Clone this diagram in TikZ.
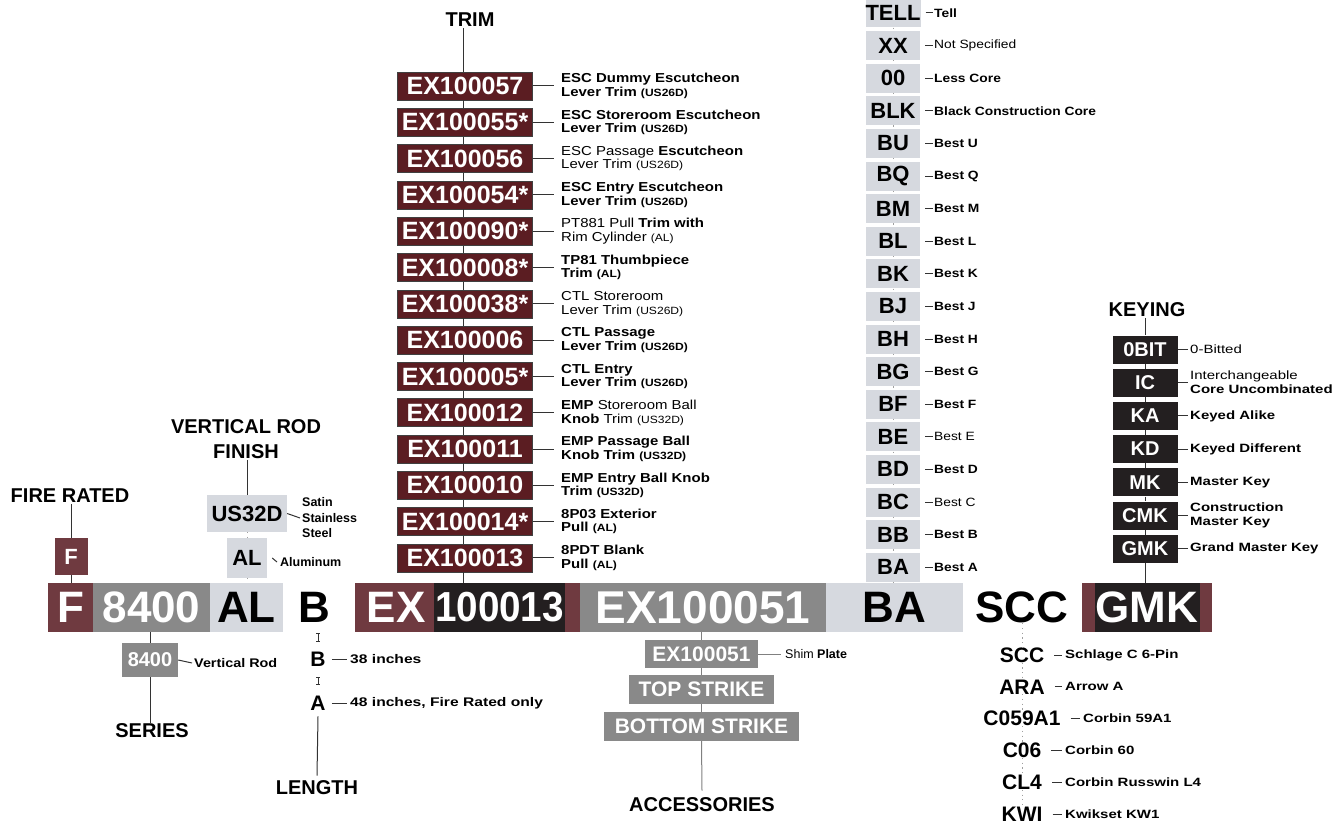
\documentclass[tikz,border=0pt]{standalone}
\usepackage{fontspec}
\setmainfont{Liberation Sans}
\newfontfamily\wideA[FakeStretch=1.15]{Liberation Sans}
\newfontfamily\wideB[FakeStretch=1.25]{Liberation Sans}
\newfontfamily\narrowA[FakeStretch=0.92]{Liberation Sans}
\usetikzlibrary{arrows.meta}
\definecolor{frmaroon}{HTML}{6F3A40}
\definecolor{trmaroon}{HTML}{5B1D22}
\definecolor{midgray}{HTML}{898989}
\definecolor{lightgr}{HTML}{D6D9DF}
\definecolor{keyblack}{HTML}{231F20}
\definecolor{linec}{HTML}{333333}
\newcommand\fsz[1]{\fontsize{#1}{#1}\selectfont}
\newcommand\psm[1]{{\fontsize{10.5}{13}\selectfont #1}}
\tikzset{
  title/.style={font=\bfseries\fsz{20}, inner sep=1pt, align=center},
  barbox/.style={minimum height=49, inner sep=0pt},
  bigtxt/.style={font=\bfseries\fsz{44}, inner sep=0pt},
  trimbox/.style={fill=trmaroon, draw=black!75, line width=0.6pt, text=white, font=\bfseries\fsz{25}, minimum width=135, minimum height=28, inner sep=0pt},
  desc/.style={anchor=west, align=left, font=\wideA\bfseries\fontsize{13}{13.5}\selectfont, inner sep=0pt},
  corebox/.style={fill=lightgr, minimum width=54, minimum height=29, inner sep=0pt, font=\bfseries\fsz{22}},
  keybox/.style={fill=keyblack, text=white, minimum width=65, minimum height=28, inner sep=0pt, font=\bfseries\fsz{20}},
  graybox/.style={fill=midgray, text=white, minimum height=28, inner sep=0pt, font=\bfseries\fsz{21}},
  lbl/.style={anchor=west, align=left, font=\wideA\bfseries\fontsize{12}{13.5}\selectfont, inner sep=0pt},
  wlbl/.style={anchor=west, align=left, font=\wideB\bfseries\fontsize{12}{14}\selectfont, inner sep=0pt},
  smtxt/.style={font=\bfseries\fsz{21}, inner sep=0pt},
  conn/.style={draw=linec, line width=1pt},
  dotc/.style={draw=gray!75, line width=1pt, dash pattern=on 1.2pt off 3.5pt},
  ibeam/.style={draw=linec, line width=0.8pt, {Bar[width=3.5pt]}-{Bar[width=3.5pt]}}
}
\begin{document}
\begin{tikzpicture}[x=1pt,y=-1pt]
\fill[white] (0,0) rectangle (1340,824);
\useasboundingbox (0,0) rectangle (1340,824);

% ---------- main bar ----------
\node[barbox, fill=frmaroon, minimum width=45, text=white, font=\bfseries\fsz{44}] (barF) at (70.5,607.5) {F};
\node[barbox, fill=midgray, minimum width=117, text=white, font=\bfseries\fsz{44}] (bar8400) at (151.5,607.5) {8400};
\node[barbox, fill=lightgr, minimum width=73, font=\bfseries\fsz{44}] (barAL) at (246.5,607.5) {AL};
\node[bigtxt] (barB) at (314,607.5) {B};
\node[barbox, fill=frmaroon, minimum width=225] (trimbar) at (467.5,607.5) {};
\node[barbox, fill=keyblack, minimum width=131, text=white, font=\narrowA\bfseries\fsz{42}] (trimblk) at (499.5,607.5) {100013};
\node[inner sep=0pt, text=white, font=\bfseries\fsz{44}] (trimEX) at (396,607.5) {EX};
\node[barbox, fill=midgray, minimum width=246, text=white, font=\bfseries\fsz{46}] (barAcc) at (703,607.5) {EX100051};
\node[barbox, fill=lightgr, minimum width=137, font=\bfseries\fsz{44}] (barBA) at (894.5,607.5) {BA};
\node[bigtxt] (barSCC) at (1022,607.5) {SCC};
\node[barbox, fill=frmaroon, minimum width=130] (keybar) at (1147,607.5) {};
\node[barbox, fill=keyblack, minimum width=105, text=white, font=\bfseries\fsz{44}] (keyblk) at (1147,607.5) {GMK};

% ---------- fire rated ----------
\node[title] (fire) at (70,496) {FIRE RATED};
\node[fill=frmaroon, text=white, minimum width=33, minimum height=37, inner sep=0pt, font=\bfseries\fsz{22}] (smF) at (71,556.5) {F};
\draw[conn] (fire.south -| smF.north) -- (smF.north);
\draw[conn] (smF.south) -- (smF.south |- barF.north);

% ---------- vertical rod finish ----------
\node[title, font=\bfseries\fontsize{20}{25}\selectfont] (vrf) at (246,439) {VERTICAL ROD\\FINISH};
\node[fill=lightgr, minimum width=80, minimum height=37, inner sep=0pt, font=\bfseries\fsz{22}] (us32d) at (247,513.5) {US32D};
\node[lbl, font=\bfseries\fontsize{12.5}{15.5}\selectfont] (us32dl) at (302,518) {Satin\\Stainless\\Steel};
\draw[conn] (vrf.south -| us32d.north) -- (us32d.north);
\draw[conn] (us32d.east) -- ([xshift=-2pt]us32dl.west);
\node[fill=lightgr, minimum width=40, minimum height=40, inner sep=0pt, font=\bfseries\fsz{22}] (smAL) at (247,558) {AL};
\node[lbl, font=\bfseries\fsz{12.5}] (smALl) at (280,562) {Aluminum};
\draw[conn] ([xshift=5pt]smAL.east) -- ([xshift=-3pt]smALl.west);
\draw[dotc] (us32d.south) -- (smAL.north);
\draw[dotc] (smAL.south) -- (smAL.south |- barAL.north);

% ---------- series ----------
\node[fill=midgray, text=white, minimum width=56, minimum height=34, inner sep=0pt, font=\bfseries\fsz{20}] (sm8400) at (150,660) {8400};
\node[lbl, font=\wideA\bfseries\fsz{12.5}] (sm8400l) at (194,663) {Vertical Rod};
\draw[conn] (sm8400.east) -- ([xshift=-2pt]sm8400l.west);
\draw[conn] (sm8400.north |- bar8400.south) -- (sm8400.north);
\node[title] (series) at (152,731) {SERIES};
\draw[conn] (sm8400.south) -- (sm8400.south |- series.north);

% ---------- length ----------
\node[smtxt] (lenB) at (318,659) {B};
\node[wlbl, font=\wideB\bfseries\fsz{12.5}] (lenBl) at (350,659) {38 inches};
\draw[conn] ([xshift=6pt]lenB.east) -- ([xshift=-3pt]lenBl.west);
\node[smtxt] (lenA) at (318,703) {A};
\node[wlbl, font=\wideB\bfseries\fsz{12.5}] (lenAl) at (350,703) {48 inches, Fire Rated only};
\draw[conn] ([xshift=6pt]lenA.east) -- ([xshift=-3pt]lenAl.west);
\draw[ibeam, shorten <=10pt, shorten >=10pt] (barB.south -| lenB.north) -- (lenB.north);
\draw[ibeam, shorten <=11pt, shorten >=11pt] (lenB.south) -- (lenA.north);
\node[title] (length) at (317,788) {LENGTH};
\draw[conn] ([yshift=-6pt]lenA.south) -- ([yshift=4pt]length.north);

% ---------- trim ----------
\node[title] (trim) at (470,20) {TRIM};
\foreach \i/\code/\dsc in {
 0/EX100057/{ESC Dummy Escutcheon\\Lever Trim \psm{(US26D)}},
 1/EX100055*/{ESC Storeroom Escutcheon\\Lever Trim \psm{(US26D)}},
 2/EX100056/{\mdseries ESC Passage \bfseries Escutcheon\\\mdseries Lever Trim \psm{(US26D)}},
 3/EX100054*/{ESC Entry Escutcheon\\Lever Trim \psm{(US26D)}},
 4/EX100090*/{\mdseries PT881 Pull \bfseries Trim with\\\mdseries Rim Cylinder \psm{(AL)}},
 5/EX100008*/{TP81 Thumbpiece\\Trim \psm{(AL)}},
 6/EX100038*/{\mdseries CTL Storeroom\\\mdseries Lever Trim \psm{(US26D)}},
 7/EX100006/{CTL Passage\\Lever Trim \psm{(US26D)}},
 8/EX100005*/{CTL Entry\\Lever Trim \psm{(US26D)}},
 9/EX100012/{EMP \mdseries Storeroom Ball\\\bfseries Knob \mdseries Trim \psm{(US32D)}},
 10/EX100011/{EMP Passage Ball\\Knob Trim \psm{(US32D)}},
 11/EX100010/{EMP Entry Ball Knob\\Trim \psm{(US32D)}},
 12/EX100014*/{8P03 Exterior\\Pull \psm{(AL)}},
 13/EX100013/{8PDT Blank\\Pull \psm{(AL)}}}
{
  \node[trimbox] (t\i) at (465,{86+36.3*\i}) {\code};
  \node[desc] (d\i) at (561,{86+36.3*\i}) {\dsc};
  \draw[conn] (t\i.east) -- ([xshift=-7pt]d\i.west);
}
\draw[conn] (trim.south -| 463,0) -- (t0.north -| 463,0);
\foreach \i [evaluate=\i as \j using int(\i+1)] in {0,...,12}
  \draw[conn] (t\i.south -| 463,0) -- (t\j.north -| 463,0);
\draw[conn] (t13.south -| 463,0) -- (trimbar.north -| 463,0);

% ---------- core ----------
\foreach \i/\c/\l in {
 0/TELL/Tell, 1/XX/{\mdseries Not Specified}, 2/00/Less Core, 3/BLK/Black Construction Core,
 4/BU/Best U, 5/BQ/Best Q, 6/BM/Best M, 7/BL/Best L, 8/BK/Best K, 9/BJ/Best J,
 10/BH/Best H, 11/BG/Best G, 12/BF/Best F, 13/BE/{\mdseries Best E}, 14/BD/Best D,
 15/BC/{\mdseries Best C}, 16/BB/Best B, 17/BA/Best A}
{
  \node[corebox] (cb\i) at (893,{13+32.6*\i}) {\c};
  \node[lbl] (cl\i) at (934,{13+32.6*\i}) {\l};
  \draw[conn] ([xshift=5pt]cb\i.east) -- ([xshift=-1.5pt]cl\i.west);
}
\foreach \i [evaluate=\i as \j using int(\i+1)] in {0,...,16}
  \draw[dotc] (cb\i.south) -- (cb\j.north);
\draw[dotc] (cb17.south) -- (cb17.south |- barBA.north);

% ---------- keying ----------
\node[title] (keying) at (1147,310) {KEYING};
\foreach \i/\c/\l in {
 0/0BIT/{\mdseries 0-Bitted}, 1/IC/{\mdseries Interchangeable\\\bfseries Core Uncombinated},
 2/KA/Keyed Alike, 3/KD/Keyed Different, 4/MK/Master Key,
 5/CMK/{Construction\\Master Key}, 6/GMK/Grand Master Key}
{
  \node[keybox] (k\i) at (1145,{349.5+33.2*\i}) {\c};
  \node[wlbl] (kl\i) at (1190,{349.5+33.2*\i}) {\l};
  \draw[conn] (k\i.east) -- ([xshift=-2.5pt]kl\i.west);
}
\draw[conn] (keying.south -| k0.north) -- (k0.north);
\foreach \i [evaluate=\i as \j using int(\i+1)] in {0,...,5}
  \draw[conn] (k\i.south) -- (k\j.north);
\draw[conn] (k6.south) -- (k6.south |- keybar.north);

% ---------- cylinder ----------
\foreach \i/\c/\l/\lx in {
 0/SCC/Schlage C 6-Pin/1065, 1/ARA/Arrow A/1065, 2/C059A1/Corbin 59A1/1083,
 3/C06/Corbin 60/1065, 4/CL4/Corbin Russwin L4/1065, 5/KWI/Kwikset KW1/1065}
{
  \node[smtxt] (s\i) at (1022,{655+31.8*\i}) {\c};
  \node[wlbl] (sl\i) at (\lx,{655+31.8*\i}) {\l};
  \draw[conn, line width=0.8pt] ([xshift=10pt]s\i.east) -- ([xshift=-3pt]sl\i.west);
}
\draw[dotc] (barSCC.south) -- (s0.north);
\foreach \i [evaluate=\i as \j using int(\i+1)] in {0,...,4}
  \draw[dotc] (s\i.south) -- (s\j.north);

% ---------- accessories ----------
\node[graybox, minimum width=113] (acc1) at (701.5,654) {EX100051};
\node[lbl, font=\fsz{12.5}] (acc1l) at (785,654) {Shim \textbf{Plate}};
\draw[conn, draw=gray] (acc1.east) -- ([xshift=-4pt]acc1l.west);
\node[graybox, minimum width=145, minimum height=29] (acc2) at (701.5,689.5) {TOP STRIKE};
\node[graybox, minimum width=195, minimum height=29] (acc3) at (701.5,726.5) {BOTTOM STRIKE};
\node[title] (accessories) at (702,805) {ACCESSORIES};
\draw[conn, draw=gray] (barAcc.south -| acc1.north) -- (acc1.north);
\draw[conn, draw=gray] (acc1.south) -- (acc2.north);
\draw[conn, draw=gray] (acc2.south) -- (acc3.north);
\draw[conn, draw=gray] (acc3.south) -- ([yshift=6pt]accessories.north);
\end{tikzpicture}
\end{document}
